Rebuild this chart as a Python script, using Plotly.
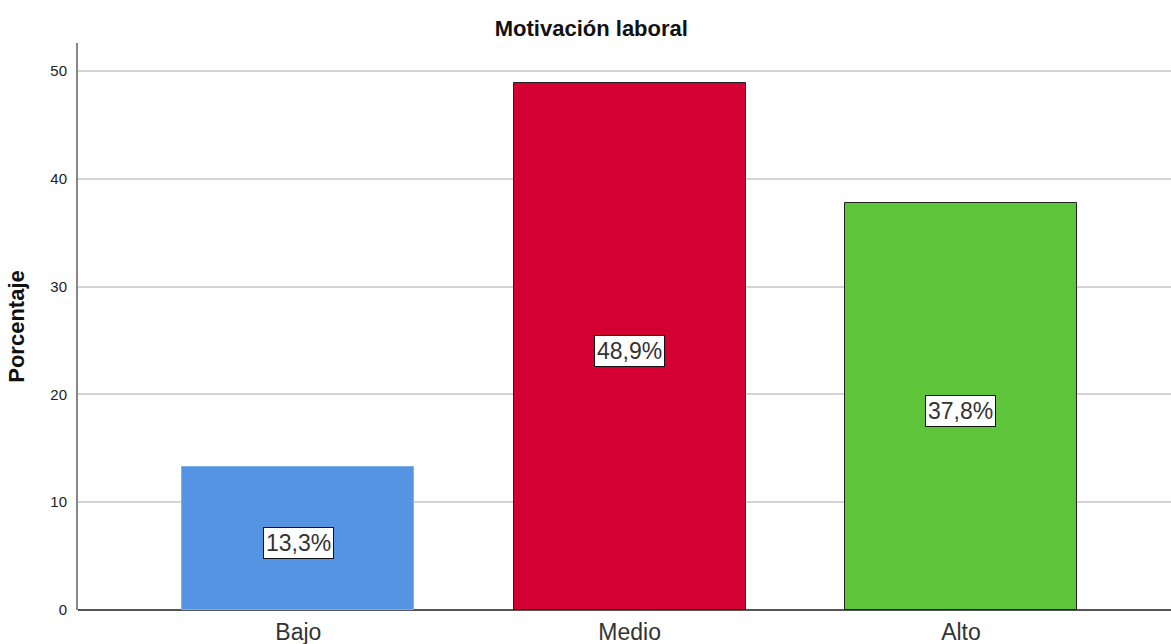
import plotly.graph_objects as go

categories = ["Bajo", "Medio", "Alto"]
percentages = [13.3, 48.9, 37.8]
bar_colors = ["#5594e3", "#d50032", "#5ec43a"]
edge_colors = ["#7fb0ec", "#222222", "#222222"]
y_ticks = [0, 10, 20, 30, 40, 50]

x_pos = list(range(len(categories)))
FONT = "Liberation Sans, Arial, sans-serif"

fig = go.Figure()
fig.add_trace(go.Bar(
    x=x_pos,
    y=percentages,
    width=0.70,
    marker=dict(color=bar_colors, line=dict(color=edge_colors, width=1)),
    hoverinfo="skip",
))

for xi, v in zip(x_pos, percentages):
    fig.add_annotation(
        x=xi, y=v / 2, xref="x", yref="y", yshift=-5,
        text=f"{v:.1f}%".replace(".", ","),
        showarrow=False,
        bgcolor="white", bordercolor="#111111", borderwidth=1, borderpad=2,
        font=dict(family=FONT, size=23, color="#333333"),
    )

fig.update_layout(
    width=1171, height=644,
    margin=dict(l=78, r=0, t=43, b=34),
    paper_bgcolor="white", plot_bgcolor="white",
    showlegend=False,
    bargap=0,
    title=dict(
        text="<b>Motivación laboral</b>",
        x=0.505, xanchor="center", y=0.956, yanchor="middle",
        font=dict(family=FONT, size=22, color="#111111"),
    ),
    font=dict(family=FONT),
)

fig.update_xaxes(
    range=[-0.665, 2.634],
    tickmode="array", tickvals=x_pos, ticktext=categories,
    tickfont=dict(size=23, color="#333333"),
    showgrid=False, zeroline=False,
    showline=False, ticks="", ticklabelstandoff=6,
)

fig.update_yaxes(
    range=[0, 52.6],
    tickmode="array", tickvals=y_ticks,
    tickfont=dict(size=15, color="#222222"),
    showgrid=True, gridcolor="#d4d4d4", gridwidth=2,
    zeroline=True, zerolinecolor="#555555", zerolinewidth=1.5,
    showline=True, linecolor="#888888", linewidth=2,
    ticks="", ticklabelstandoff=6,
    title=dict(text="<b>Porcentaje</b>", standoff=20,
               font=dict(size=22, color="#111111")),
)

fig.write_html("out.html")
